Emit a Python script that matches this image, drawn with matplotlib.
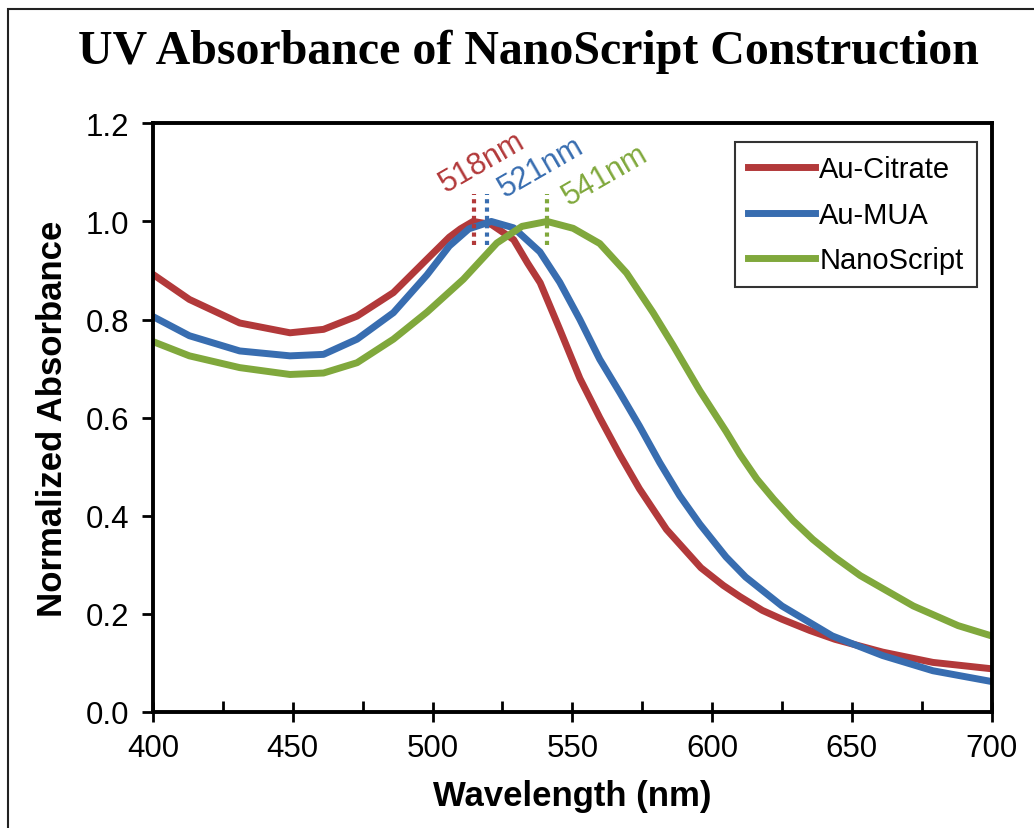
import numpy as np
import matplotlib
matplotlib.use('Agg')
import matplotlib.pyplot as plt
from matplotlib.patches import Rectangle
from matplotlib.ticker import MultipleLocator, FormatStrFormatter

# Datos (longitud de onda [nm], absorbancia normalizada)
wl_citrate = [400, 413, 431, 449, 461, 473, 486, 498, 506, 510, 514.5, 521, 529, 534, 538.5,
              545.5, 552.7, 559.8, 567, 574, 583.7, 596, 604, 610, 618, 625, 635, 644, 661,
              679, 700]
abs_citrate = [0.892, 0.841, 0.793, 0.773, 0.780, 0.807, 0.855, 0.923, 0.968, 0.985, 1.0,
               0.994, 0.963, 0.915, 0.875, 0.78, 0.68, 0.60, 0.524, 0.455, 0.372, 0.294,
               0.258, 0.235, 0.207, 0.189, 0.166, 0.148, 0.122, 0.101, 0.088]

wl_mua = [400, 413, 431, 449, 461, 473, 486, 498, 506, 513, 521, 529, 538.4, 545.5, 552.7,
          559.8, 567, 574, 581.3, 588.4, 595.6, 605, 612, 625, 643, 661, 679, 700]
abs_mua = [0.806, 0.767, 0.736, 0.726, 0.729, 0.760, 0.814, 0.891, 0.950, 0.985, 1.0, 0.987,
           0.938, 0.876, 0.80, 0.719, 0.651, 0.583, 0.508, 0.441, 0.383, 0.316, 0.275, 0.216,
           0.155, 0.115, 0.084, 0.062]

wl_nano = [400, 413, 431, 449, 461, 473, 486, 498, 511, 523, 532, 541, 550.3, 559.8, 569.4,
           578.9, 586, 595.6, 605, 610, 616, 622, 629, 636, 644, 653, 672, 688, 700]
abs_nano = [0.755, 0.726, 0.702, 0.688, 0.691, 0.712, 0.760, 0.815, 0.882, 0.956, 0.990, 1.0,
            0.986, 0.955, 0.895, 0.814, 0.748, 0.655, 0.572, 0.525, 0.475, 0.434, 0.39, 0.352,
            0.315, 0.278, 0.216, 0.176, 0.155]

labels = ['Au-Citrate', 'Au-MUA', 'NanoScript']
colors = ['#B2393A', '#386DB0', '#80A83C']
peak_pos = [515, 519.5, 541]          # posicion de las lineas punteadas
peak_text = ['518nm', '521nm', '541nm']
text_pos = [(517.6, 1.122), (539.0, 1.112), (561.6, 1.096)]

###############################################################################
plt.rcParams['font.family'] = ['Liberation Sans', 'DejaVu Sans']

fig = plt.figure(figsize=(10.34, 8.29), dpi=100)
ax = fig.add_axes([0.148, 0.140, 0.811, 0.710])

series = [(wl_citrate, abs_citrate), (wl_mua, abs_mua), (wl_nano, abs_nano)]
for (x, y), lab, c in zip(series, labels, colors):
    ax.plot(x, y, color=c, lw=5, label=lab, solid_joinstyle='round')

for p, t, (tx, ty), c in zip(peak_pos, peak_text, text_pos, colors):
    ax.plot([p, p], [0.953, 1.055], color=c, lw=3, linestyle=(0, (1, 1)))
    ax.text(tx, ty, t, color=c, fontsize=22, rotation=30, ha='center', va='center')

ax.set_xlim(400, 700)
ax.set_ylim(0, 1.2)
ax.xaxis.set_major_locator(MultipleLocator(50))
ax.xaxis.set_minor_locator(MultipleLocator(25))
ax.yaxis.set_major_locator(MultipleLocator(0.2))
ax.yaxis.set_major_formatter(FormatStrFormatter('%.1f'))
ax.tick_params(axis='x', which='major', direction='inout', length=14, width=2, labelsize=22.5, pad=8)
ax.tick_params(axis='x', which='minor', direction='in', length=8, width=2)
ax.tick_params(axis='y', which='major', direction='out', length=8, width=2, labelsize=22.5, pad=9)
for s in ax.spines.values():
    s.set_linewidth(2.8)

ax.set_xlabel('Wavelength (nm)', fontsize=25, fontweight='bold', labelpad=12)
ax.set_ylabel('Normalized Absorbance', fontsize=25, fontweight='bold', labelpad=12)

leg = ax.legend(loc='upper right', fontsize=21, frameon=True, fancybox=False,
                handlelength=2.3, handletextpad=0.15, borderpad=0.45, labelspacing=0.6,
                borderaxespad=0, bbox_to_anchor=(0.982, 0.968))
leg.get_frame().set_edgecolor('black')
leg.get_frame().set_linewidth(1.5)

fig.text(0.511, 0.937, 'UV Absorbance of NanoScript Construction', ha='center', va='center',
         fontsize=34.5, fontweight='bold', family=['Liberation Serif', 'DejaVu Serif'])

# marco exterior de la figura
fig.patches.append(Rectangle((0.008, -0.1), 1.2, 1.088, transform=fig.transFigure,
                             fill=False, edgecolor='#222222', lw=1.5))

fig.savefig('out.png', dpi=100)
